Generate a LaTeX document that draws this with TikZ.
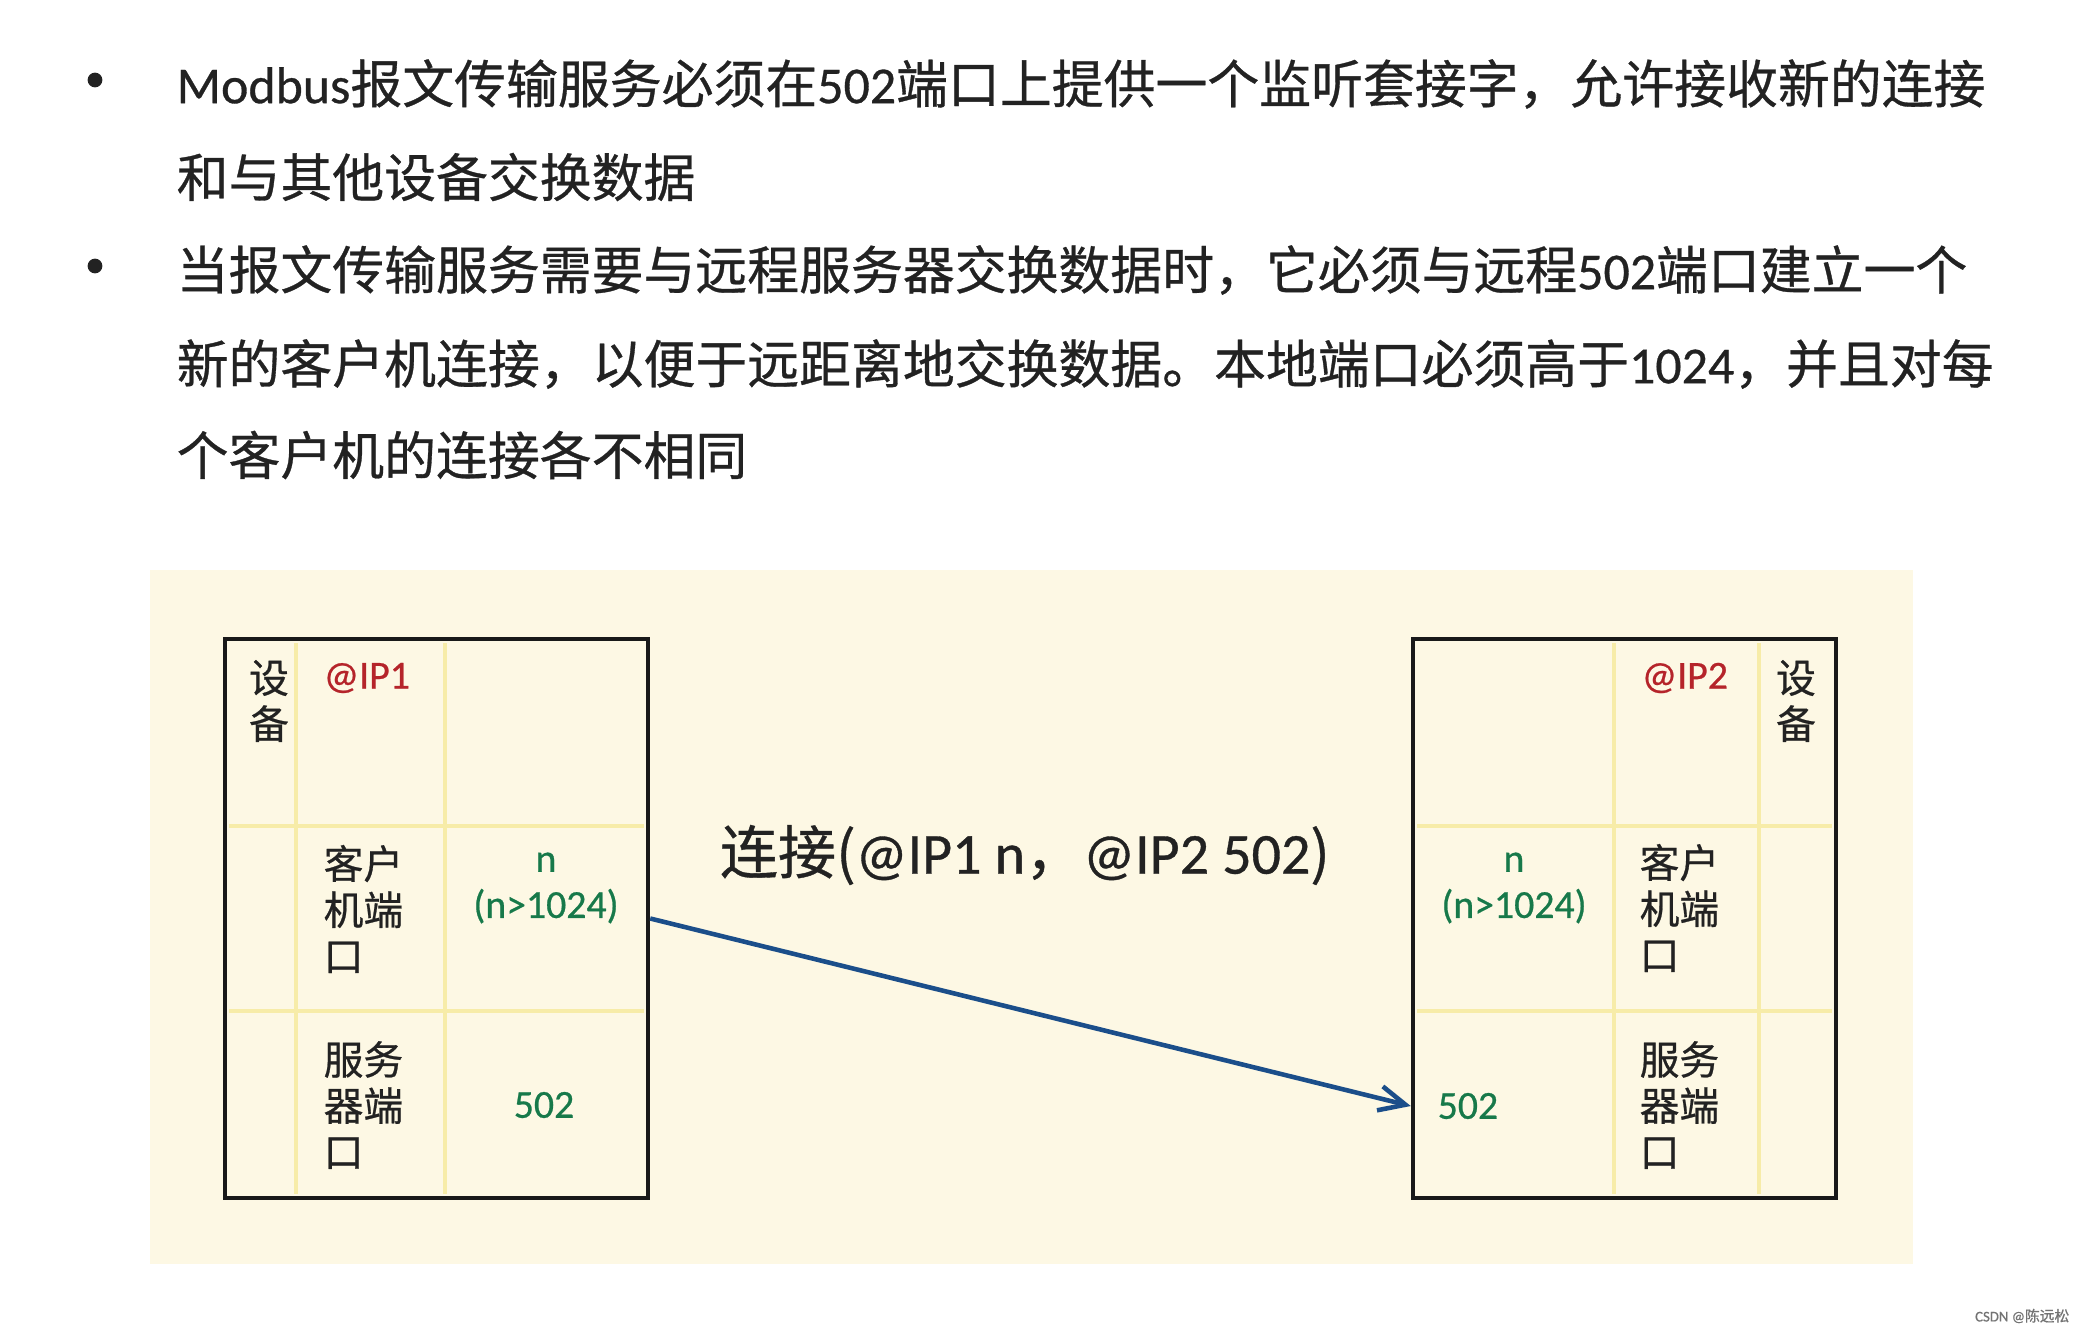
\documentclass[tikz,border=0pt]{standalone}
\usepackage{fontspec}
\setmainfont{Noto Sans CJK SC}[FakeBold=0.6]
\newfontfamily\lat{Carlito}[FakeBold=0.6]
\usetikzlibrary{arrows.meta}
\definecolor{bgcream}{HTML}{FDF8E4}
\definecolor{gridyellow}{HTML}{F7ECA8}
\definecolor{ipred}{HTML}{B5242A}
\definecolor{portgreen}{HTML}{17794A}
\definecolor{linkblue}{HTML}{1B4E8A}
\definecolor{txtgray}{HTML}{222222}
\newcommand{\bodyfont}{\fontsize{14.75}{26}\selectfont}
\newcommand{\cellfont}{\fontsize{11.3}{13.1}\selectfont}
\newcommand{\linkfont}{\fontsize{16.5}{20}\selectfont}
\begin{document}
\begin{tikzpicture}[x=0.01cm,y=-0.01cm,
	textline/.style={anchor=west,inner sep=0pt,font=\bodyfont,text=txtgray},
	dot/.style={circle,fill=txtgray,inner sep=0pt,minimum size=4.2pt},
	devbox/.style={draw=black!90,line width=1.2pt,fill=bgcream,minimum width=4.23cm,minimum height=5.59cm,inner sep=0pt},
	grid/.style={draw=gridyellow,line width=1.1pt},
	cell/.style={inner sep=0pt,font=\cellfont,text=txtgray,align=left},
	ip/.style={inner sep=0pt,font=\cellfont\lat,text=ipred},
	port/.style={inner sep=0pt,font=\cellfont\lat,text=portgreen,align=center},
	conn/.style={draw=linkblue,line width=1.3pt,-{Straight Barb[length=7.5pt,width=7pt]}}]
	\useasboundingbox[fill=white] (0,0) rectangle (2081,1327);
	\node[dot] (b1) at (95,80) {};
	\node[textline] (l1) at (176,84) {{\lat Modbus}报文传输服务必须在{\lat 502}端口上提供一个监听套接字，允许接收新的连接};
	\node[textline] (l2) at (176,177) {和与其他设备交换数据};
	\node[dot] (b2) at (95,266) {};
	\node[textline] (l3) at (176,270) {当报文传输服务需要与远程服务器交换数据时，它必须与远程{\lat 502}端口建立一个};
	\node[textline] (l4) at (176,364) {新的客户机连接，以便于远距离地交换数据。本地端口必须高于{\lat 1024}，并且对每};
	\node[textline] (l5) at (176,455) {个客户机的连接各不相同};
	\fill[bgcream] (150,570) rectangle (1913,1264);
	\node[devbox] (dev1) at (436.5,918.5) {};
	\node[devbox] (dev2) at (1624.5,918.5) {};
	\foreach \x in {296,445,1614,1759}
		\draw[grid] (\x,643) -- (\x,1194);
	\foreach \y in {826,1011} {
		\draw[grid] (229,\y) -- (644,\y);
		\draw[grid] (1417,\y) -- (1832,\y);
	}
	\node[cell,align=center] (dev1name) at (269,701) {设\\备};
	\node[ip,anchor=west] (ip1) at (323,678) {@IP1};
	\node[cell,anchor=west] (cli1) at (323,909) {客户\\机端\\口};
	\node[port] (cport1) at (546,888) {n\\(n>1024)};
	\node[cell,anchor=west] (srv1) at (323,1105) {服务\\器端\\口};
	\node[port] (sport1) at (544,1105) {502};
	\node[cell,align=center] (dev2name) at (1796,701) {设\\备};
	\node[ip,anchor=west] (ip2) at (1641,678) {@IP2};
	\node[port] (cport2) at (1514,888) {n\\(n>1024)};
	\node[cell,anchor=west] (cli2) at (1639,908) {客户\\机端\\口};
	\node[port,anchor=west] (sport2) at (1437,1106) {502};
	\node[cell,anchor=west] (srv2) at (1639,1105) {服务\\器端\\口};
	\node[inner sep=0pt,font=\linkfont,text=txtgray] (link) at (1025,855) {连接({\lat @IP1 n}，{\lat @IP2 502})};
	\draw[conn] (dev1.east) -- (dev2.west |- sport2);
	\node[inner sep=0pt,anchor=east,font=\fontsize{4.2}{5}\selectfont,text=black!55] (mark) at (2070,1316) {{\lat CSDN @}陈远松};
\end{tikzpicture}
\end{document}
